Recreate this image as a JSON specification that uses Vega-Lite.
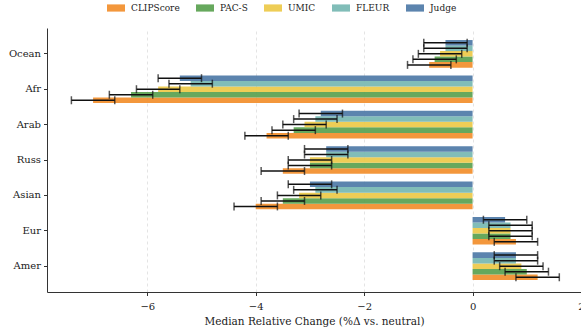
{
  "$schema": "https://vega.github.io/schema/vega-lite/v6.json",
  "width": 534,
  "height": 264,
  "autosize": {"type": "none"},
  "padding": {"left": 47, "top": 28, "right": 0, "bottom": 41},
  "background": "white",
  "config": {
    "font": "DejaVu Serif",
    "view": {"stroke": null},
    "axis": {"labelFont": "DejaVu Serif", "titleFont": "DejaVu Serif", "labelFontSize": 10, "titleFontSize": 10.5, "titleFontWeight": "normal", "labelColor": "#222", "titleColor": "#222", "domainColor": "#333", "tickColor": "#333", "domainWidth": 1, "tickWidth": 1, "tickSize": 3.5},
    "legend": {"labelFont": "DejaVu Serif", "labelFontSize": 9, "labelColor": "#222"}
  },
  "data": {
    "values": [
      {"group": "Ocean", "metric": "CLIPScore", "value": -0.8, "lo": -1.2, "hi": -0.4},
      {"group": "Ocean", "metric": "PAC-S", "value": -0.7, "lo": -1.1, "hi": -0.3},
      {"group": "Ocean", "metric": "UMIC", "value": -0.6, "lo": -1.0, "hi": -0.2},
      {"group": "Ocean", "metric": "FLEUR", "value": -0.5, "lo": -0.9, "hi": -0.1},
      {"group": "Ocean", "metric": "Judge", "value": -0.5, "lo": -0.9, "hi": -0.1},
      {"group": "Afr", "metric": "CLIPScore", "value": -7.0, "lo": -7.4, "hi": -6.6},
      {"group": "Afr", "metric": "PAC-S", "value": -6.3, "lo": -6.7, "hi": -5.9},
      {"group": "Afr", "metric": "UMIC", "value": -5.8, "lo": -6.2, "hi": -5.4},
      {"group": "Afr", "metric": "FLEUR", "value": -5.2, "lo": -5.6, "hi": -4.8},
      {"group": "Afr", "metric": "Judge", "value": -5.4, "lo": -5.8, "hi": -5.0},
      {"group": "Arab", "metric": "CLIPScore", "value": -3.8, "lo": -4.2, "hi": -3.4},
      {"group": "Arab", "metric": "PAC-S", "value": -3.3, "lo": -3.7, "hi": -2.9},
      {"group": "Arab", "metric": "UMIC", "value": -3.1, "lo": -3.5, "hi": -2.7},
      {"group": "Arab", "metric": "FLEUR", "value": -2.9, "lo": -3.3, "hi": -2.5},
      {"group": "Arab", "metric": "Judge", "value": -2.8, "lo": -3.2, "hi": -2.4},
      {"group": "Russ", "metric": "CLIPScore", "value": -3.5, "lo": -3.9, "hi": -3.1},
      {"group": "Russ", "metric": "PAC-S", "value": -3.0, "lo": -3.4, "hi": -2.6},
      {"group": "Russ", "metric": "UMIC", "value": -3.0, "lo": -3.4, "hi": -2.6},
      {"group": "Russ", "metric": "FLEUR", "value": -2.7, "lo": -3.1, "hi": -2.3},
      {"group": "Russ", "metric": "Judge", "value": -2.7, "lo": -3.1, "hi": -2.3},
      {"group": "Asian", "metric": "CLIPScore", "value": -4.0, "lo": -4.4, "hi": -3.6},
      {"group": "Asian", "metric": "PAC-S", "value": -3.5, "lo": -3.9, "hi": -3.1},
      {"group": "Asian", "metric": "UMIC", "value": -3.2, "lo": -3.6, "hi": -2.8},
      {"group": "Asian", "metric": "FLEUR", "value": -2.9, "lo": -3.3, "hi": -2.5},
      {"group": "Asian", "metric": "Judge", "value": -3.0, "lo": -3.4, "hi": -2.6},
      {"group": "Eur", "metric": "CLIPScore", "value": 0.8, "lo": 0.4, "hi": 1.2},
      {"group": "Eur", "metric": "PAC-S", "value": 0.7, "lo": 0.3, "hi": 1.1},
      {"group": "Eur", "metric": "UMIC", "value": 0.7, "lo": 0.3, "hi": 1.1},
      {"group": "Eur", "metric": "FLEUR", "value": 0.7, "lo": 0.3, "hi": 1.1},
      {"group": "Eur", "metric": "Judge", "value": 0.6, "lo": 0.2, "hi": 1.0},
      {"group": "Amer", "metric": "CLIPScore", "value": 1.2, "lo": 0.8, "hi": 1.6},
      {"group": "Amer", "metric": "PAC-S", "value": 1.0, "lo": 0.6, "hi": 1.4},
      {"group": "Amer", "metric": "UMIC", "value": 0.9, "lo": 0.5, "hi": 1.3},
      {"group": "Amer", "metric": "FLEUR", "value": 0.8, "lo": 0.4, "hi": 1.2},
      {"group": "Amer", "metric": "Judge", "value": 0.8, "lo": 0.4, "hi": 1.2}
    ]
  },
  "encoding": {
    "y": {
      "field": "group", "type": "nominal",
      "sort": ["Ocean", "Afr", "Arab", "Russ", "Asian", "Eur", "Amer"],
      "scale": {"paddingInner": 0.22, "paddingOuter": 0.34},
      "axis": {"title": null, "grid": false, "labelPadding": 3}
    },
    "yOffset": {
      "field": "metric", "type": "nominal",
      "sort": ["Judge", "FLEUR", "UMIC", "PAC-S", "CLIPScore"]
    }
  },
  "layer": [
    {
      "mark": {"type": "bar", "opacity": 0.92},
      "encoding": {
        "x": {
          "field": "value", "type": "quantitative",
          "scale": {"domain": [-7.85, 2], "nice": false, "zero": true},
          "axis": {
            "title": "Median Relative Change (%Δ vs. neutral)",
            "values": [-6, -4, -2, 0, 2], "format": "d", "labelFlush": false,
            "grid": true, "gridDash": [3, 3], "gridColor": "#dddddd", "gridWidth": 0.8,
            "labelPadding": 6, "titlePadding": 5
          }
        },
        "color": {
          "field": "metric", "type": "nominal",
          "sort": ["CLIPScore", "PAC-S", "UMIC", "FLEUR", "Judge"],
          "scale": {
            "domain": ["CLIPScore", "PAC-S", "UMIC", "FLEUR", "Judge"],
            "range": ["#f28e2b", "#59a14f", "#edc948", "#76b7b2", "#4e79a7"]
          },
          "legend": {
            "title": null, "orient": "none", "direction": "horizontal",
            "legendX": 60, "legendY": -29,
            "symbolType": "M-1,-0.4H1V0.4H-1Z", "symbolSize": 324,
            "symbolStrokeWidth": 0, "symbolOpacity": 0.92,
            "labelOffset": 6, "columnPadding": 16
          }
        }
      }
    },
    {
      "mark": {"type": "rule", "color": "#111", "strokeWidth": 1.5},
      "encoding": {
        "x": {"field": "lo", "type": "quantitative"},
        "x2": {"field": "hi"}
      }
    },
    {
      "mark": {"type": "tick", "color": "#111", "thickness": 1.5, "size": 8},
      "encoding": {
        "x": {"field": "lo", "type": "quantitative"}
      }
    },
    {
      "mark": {"type": "tick", "color": "#111", "thickness": 1.5, "size": 8},
      "encoding": {
        "x": {"field": "hi", "type": "quantitative"}
      }
    }
  ]
}
